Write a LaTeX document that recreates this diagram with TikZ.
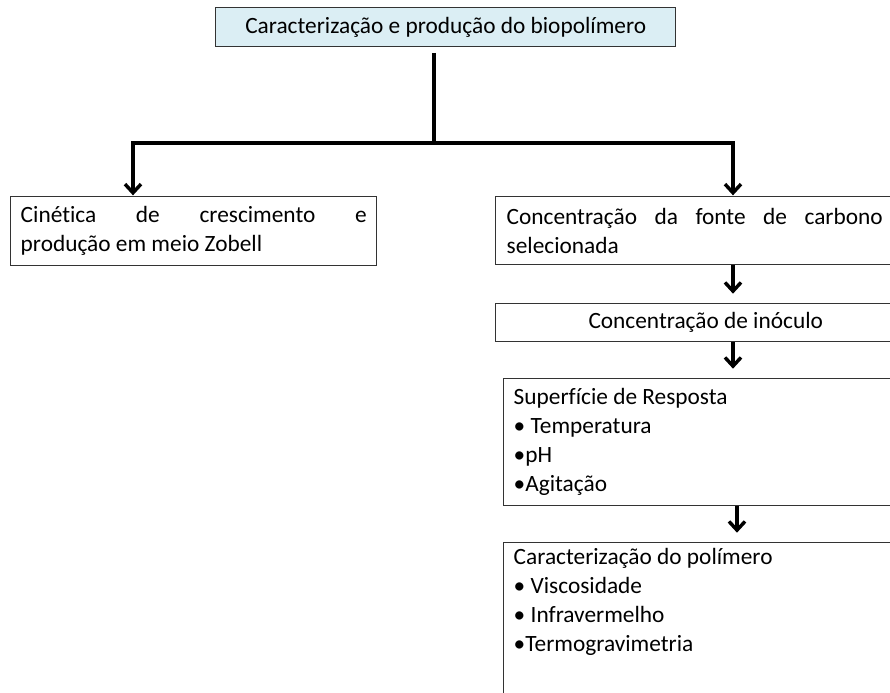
\documentclass[tikz,border=0pt]{standalone}
\usepackage{fontspec}
\setmainfont[Ligatures=NoCommon]{Carlito}
\usetikzlibrary{arrows.meta,positioning}
\definecolor{titlefill}{HTML}{DBEEF4}
\definecolor{boxline}{HTML}{333333}

\begin{document}
\begin{tikzpicture}[
    x=0.75pt, y=-0.75pt,
    font=\fontsize{17.5}{21.75}\selectfont,
    box/.style={draw=boxline, line width=1.1pt, anchor=north west, inner xsep=7.5pt, inner ysep=4pt},
    arrow/.style={-{Straight Barb[length=6.5pt,width=12pt]}, line width=2.6pt}
]
    \path[use as bounding box, clip] (0,0) rectangle (890,693);

    \node[box, fill=titlefill, minimum width=345pt, minimum height=29.25pt] (titulo) at (215,7)
        {Caracterização e produção do biopolímero};
    \node[box, text width=259.5pt, align=justify, minimum height=51.75pt] (cinetica) at (10,196)
        {Cinética de crescimento e\linebreak produção em meio Zobell};
    \node[box, text width=282pt, align=justify, inner xsep=8.25pt, minimum height=51pt] (fonte) at (495,196)
        {Concentração da fonte de carbono\linebreak selecionada};
    \node[box, minimum width=315pt, minimum height=28.5pt] (inoculo) at (495,303)
        {Concentração de inóculo};
    \node[box, text width=297pt, align=flush left, minimum height=95.25pt] (resposta) at (503,378)
        {Superfície de Resposta\\
         • Temperatura\\
         •pH\\
         •Agitação};
    \node[box, text width=297pt, align=flush left, text depth=100pt] (polimero) at (503,542)
        {Caracterização do polímero\\
         • Viscosidade\\
         • Infravermelho\\
         •Termogravimetria};

    \coordinate (tronco) at (434,143);
    \coordinate (ramoE) at (133,143);
    \coordinate (ramoD) at (733,143);
    \coordinate (eixo) at (737,0);

    \draw[line width=2.6pt, shorten <=4pt] (tronco |- titulo.south) -- (tronco);
    \draw[line width=2.6pt, line cap=rect] (ramoE) -- (ramoD);
    \draw[arrow, shorten >=0.5pt] (ramoE) -- (ramoE |- cinetica.north);
    \draw[arrow, shorten >=0.5pt] (ramoD) -- (ramoD |- fonte.north);
    \draw[arrow, shorten >=7pt] (ramoD |- fonte.south) -- (ramoD |- inoculo.north);
    \draw[arrow, shorten >=7pt] (ramoD |- inoculo.south) -- (ramoD |- resposta.north);
    \draw[arrow, shorten >=7pt] (eixo |- resposta.south) -- (eixo |- polimero.north);
\end{tikzpicture}
\end{document}
